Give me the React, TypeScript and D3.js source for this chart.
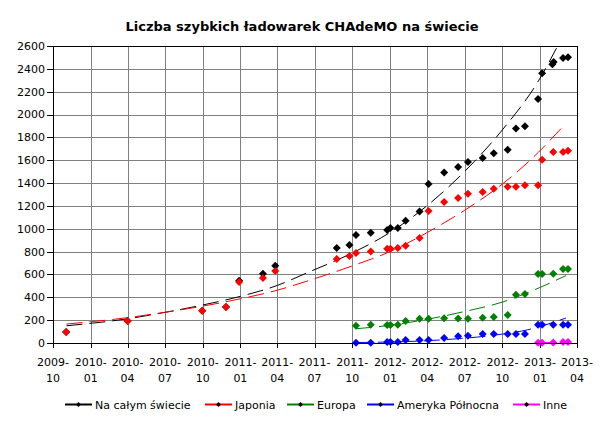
import React from "react";
import * as d3 from "d3";

const W = 600;
const H = 426;

const titleText = "Liczba szybkich ładowarek CHAdeMO na świecie";
const yTicks = [0, 200, 400, 600, 800, 1000, 1200, 1400, 1600, 1800, 2000, 2200, 2400, 2600];
const xTickDates = [
  "2009-10-01", "2010-01-01", "2010-04-01", "2010-07-01", "2010-10-01",
  "2011-01-01", "2011-04-01", "2011-07-01", "2011-10-01", "2012-01-01",
  "2012-04-01", "2012-07-01", "2012-10-01", "2013-01-01", "2013-04-01",
];

// Series: Na całym świecie
const worldDates = [
  "2009-11-02", "2010-04-01", "2010-09-30", "2010-11-27", "2010-12-29", "2011-02-25", "2011-03-27",
  "2011-08-24", "2011-09-24", "2011-10-10", "2011-11-15", "2011-12-25", "2012-01-02", "2012-01-20",
  "2012-02-08", "2012-03-13", "2012-04-04", "2012-05-12", "2012-06-15", "2012-07-09", "2012-08-14",
  "2012-09-10", "2012-10-14", "2012-11-03", "2012-11-25", "2012-12-27", "2013-01-06", "2013-01-31",
  "2013-02-03", "2013-02-26", "2013-03-10",
];
const worldValues = [
  96, 192, 283, 315, 545, 606, 676,
  831, 857, 945, 965, 989, 1006, 1006,
  1070, 1151, 1391, 1493, 1540, 1584, 1619,
  1662, 1691, 1878, 1898, 2135, 2362, 2441,
  2460, 2496, 2502,
];

// Series: Japonia
const japanDates = [
  "2009-11-02", "2010-04-01", "2010-09-30", "2010-11-27", "2010-12-29", "2011-02-25", "2011-03-27",
  "2011-08-24", "2011-09-24", "2011-10-10", "2011-11-15", "2011-12-25", "2012-01-02", "2012-01-20",
  "2012-02-08", "2012-03-13", "2012-04-04", "2012-05-12", "2012-06-15", "2012-07-09", "2012-08-14",
  "2012-09-10", "2012-10-14", "2012-11-03", "2012-11-25", "2012-12-27", "2013-01-06", "2013-02-02",
  "2013-02-26", "2013-03-10",
];
const japanValues = [
  96, 192, 283, 315, 535, 569, 630,
  735, 761, 787, 801, 825, 825, 831,
  851, 919, 1155, 1234, 1269, 1306, 1321,
  1350, 1367, 1367, 1382, 1382, 1604, 1671,
  1671, 1682,
];

// Series: Europa
const europeDates = [
  "2011-10-10", "2011-11-15", "2011-12-25", "2012-01-02", "2012-01-20", "2012-02-08", "2012-03-13",
  "2012-04-04", "2012-05-12", "2012-06-15", "2012-07-09", "2012-08-14", "2012-09-10", "2012-10-14",
  "2012-11-03", "2012-11-25", "2012-12-27", "2013-01-06", "2013-02-02", "2013-02-26", "2013-03-10",
];
const europeValues = [
  151, 160, 157, 157, 160, 192, 213,
  213, 217, 215, 213, 221, 227, 245,
  423, 428, 603, 603, 606, 647, 647,
];

// Series: Ameryka Północna
const naDates = europeDates;
const naValues = [
  3, 3, 9, 9, 9, 26, 26,
  26, 44, 58, 64, 79, 79, 79,
  79, 79, 160, 160, 160, 160, 160,
];

// Series: Inne
const otherDates = ["2012-12-27", "2013-01-06", "2013-02-02", "2013-02-26", "2013-03-10"];
const otherValues = [3, 3, 5, 9, 9];

// Trendlines
const trendWorldDates = [
  "2009-11-03", "2010-04-01", "2010-07-01", "2010-09-30", "2011-01-01", "2011-04-01", "2011-06-11",
  "2011-10-01", "2012-01-01", "2012-04-01", "2012-07-01", "2012-10-01", "2012-12-28", "2013-02-10",
];
const trendWorldValues = [151, 212, 268, 332, 408, 504, 612, 788, 968, 1204, 1502, 1866, 2295, 2581];

const trendJapanDates = trendWorldDates.slice(0, 13).concat(["2013-02-22"]);
const trendJapanValues = [166, 222, 269, 322, 387, 462, 540, 675, 800, 968, 1162, 1392, 1670, 1881];

const trendEuropeDates = ["2011-10-10", "2012-01-01", "2012-04-01", "2012-07-01", "2012-10-01", "2012-12-29", "2013-03-05"];
const trendEuropeValues = [125, 155, 208, 276, 358, 482, 590];

const trendNaDates = ["2011-10-07", "2012-01-01", "2012-04-01", "2012-06-01", "2012-08-01", "2012-10-01", "2012-12-01", "2013-01-15", "2013-03-05"];
const trendNaValues = [4, 9, 20, 34, 52, 78, 115, 160, 218];

const trendOtherDates = ["2012-12-27", "2013-03-10"];
const trendOtherValues = [2, 10];

const seriesNames = ["Na całym świecie", "Japonia", "Europa", "Ameryka Północna", "Inne"];
const seriesColors = ["#000000", "#FF0000", "#008000", "#0000FF", "#FF00FF"];

const parse = d3.timeParse("%Y-%m-%d");

const series = [
  { dates: worldDates, values: worldValues, tDates: trendWorldDates, tValues: trendWorldValues },
  { dates: japanDates, values: japanValues, tDates: trendJapanDates, tValues: trendJapanValues },
  { dates: europeDates, values: europeValues, tDates: trendEuropeDates, tValues: trendEuropeValues },
  { dates: naDates, values: naValues, tDates: trendNaDates, tValues: trendNaValues },
  { dates: otherDates, values: otherValues, tDates: trendOtherDates, tValues: trendOtherValues },
];

const legendX = [65, 205, 287, 367, 513];

export default function App() {
  const left = 53, right = 577, top = 46, bottom = 343;
  const x = d3.scaleTime()
    .domain([parse("2009-10-01")!, parse("2013-04-01")!])
    .range([left, right]);
  const y = d3.scaleLinear().domain([0, 2600]).range([bottom, top]);

  const line = d3.line<[Date, number]>()
    .x((d) => x(d[0]))
    .y((d) => y(d[1]))
    .curve(d3.curveMonotoneX);

  const diamond = "M0,-4L4,0L0,4L-4,0Z";
  const font = "'DejaVu Sans', Verdana, sans-serif";

  return (
    <svg width={W} height={H} style={{ position: "absolute", left: 0, top: 0, background: "#fff" }} fontFamily={font}>
      <defs>
        <clipPath id="plot">
          <rect x={left} y={top} width={right - left} height={bottom - top} />
        </clipPath>
      </defs>
      <rect x={0} y={0} width={W} height={H} fill="#fff" />
      <text x={(W) / 2 + 2} y={31} textAnchor="middle" fontSize={13} fontWeight="bold" fill="#000">
        {titleText}
      </text>

      {/* gridlines */}
      <g shapeRendering="crispEdges" stroke="#808080" strokeWidth={1}>
        {yTicks.slice(1).map((t) => (
          <line key={"h" + t} x1={left} x2={right} y1={Math.round(y(t)) + 0.5} y2={Math.round(y(t)) + 0.5} />
        ))}
        {xTickDates.slice(1, -1).map((d) => (
          <line key={"v" + d} x1={Math.round(x(parse(d)!)) + 0.5} x2={Math.round(x(parse(d)!)) + 0.5} y1={top} y2={bottom} />
        ))}
      </g>

      {/* plot border */}
      <g shapeRendering="crispEdges" stroke="#000" strokeWidth={1} fill="none">
        <line x1={left} x2={right + 0.5} y1={top + 0.5} y2={top + 0.5} />
        <line x1={right + 0.5} x2={right + 0.5} y1={top} y2={bottom} />
      </g>

      {/* trendlines */}
      <g clipPath="url(#plot)" fill="none" strokeWidth={1}>
        {series.map((s, i) => (
          <path
            key={"t" + i}
            d={line(s.tDates.map((d, j) => [parse(d)!, s.tValues[j]] as [Date, number])) || ""}
            stroke={seriesColors[i]}
            strokeDasharray="16,7"
          />
        ))}
      </g>

      {/* markers */}
      <g>
        {series.map((s, i) => (
          <g key={"m" + i} fill={seriesColors[i]}>
            {s.dates.map((d, j) => (
              <path key={j} d={diamond} transform={`translate(${x(parse(d)!)},${y(s.values[j])})`} />
            ))}
          </g>
        ))}
      </g>

      {/* axes */}
      <g shapeRendering="crispEdges" stroke="#000" strokeWidth={1}>
        <line x1={left + 0.5} x2={left + 0.5} y1={top} y2={bottom + 1} />
        <line x1={left} x2={right + 1} y1={bottom + 0.5} y2={bottom + 0.5} />
        {yTicks.map((t) => (
          <line key={"yt" + t} x1={left - 6} x2={left} y1={Math.round(y(t)) + 0.5} y2={Math.round(y(t)) + 0.5} />
        ))}
        {xTickDates.map((d) => (
          <line key={"xt" + d} x1={Math.round(x(parse(d)!)) + 0.5} x2={Math.round(x(parse(d)!)) + 0.5} y1={bottom} y2={bottom + 5} />
        ))}
      </g>
      <g fontSize={11} fill="#000">
        {yTicks.map((t) => (
          <text key={"yl" + t} x={left - 8} y={y(t)} dy="0.36em" textAnchor="end">{t}</text>
        ))}
        {xTickDates.map((d) => {
          const dt = parse(d)!;
          const xx = x(dt);
          return (
            <text key={"xl" + d} textAnchor="middle">
              <tspan x={xx} y={366}>{d3.timeFormat("%Y")(dt) + "-"}</tspan>
              <tspan x={xx} y={382}>{d3.timeFormat("%m")(dt)}</tspan>
            </text>
          );
        })}
      </g>

      {/* legend */}
      <g fontSize={11}>
        {seriesNames.map((n, i) => (
          <g key={"lg" + i}>
            <line x1={legendX[i]} x2={legendX[i] + 27} y1={404.5} y2={404.5} stroke={seriesColors[i]} strokeWidth={2} />
            <path d="M0,-2.5L2.5,0L0,2.5L-2.5,0Z" transform={`translate(${legendX[i] + 13.5},404.5)`} fill="#000" />
            <text x={legendX[i] + 30} y={408.5} fill="#000">{n}</text>
          </g>
        ))}
      </g>
    </svg>
  );
}
